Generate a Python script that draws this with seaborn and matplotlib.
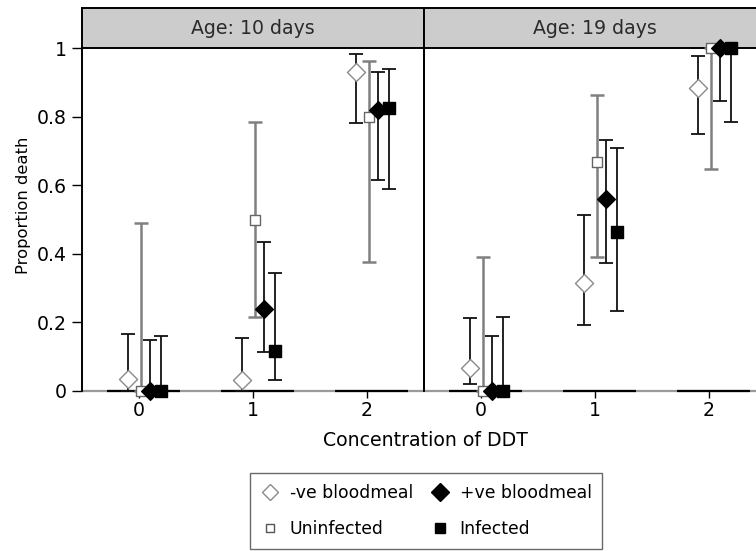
import numpy as np
import pandas as pd
import matplotlib
matplotlib.use("Agg")
import matplotlib.pyplot as plt
from matplotlib.lines import Line2D
import seaborn as sns

# ---------------- data ----------------
doses = [0, 1, 2]
ages = ["Age: 10 days", "Age: 19 days"]
series = ["-ve bloodmeal", "Uninfected", "+ve bloodmeal", "Infected"]

# Age 10 days
p10_neg = [0.035, 0.032, 0.931]
lo10_neg = [0.0, 0.0, 0.78]
hi10_neg = [0.166, 0.154, 0.982]
p10_uninf = [0.0, 0.50, 0.80]
lo10_uninf = [0.0, 0.216, 0.376]
hi10_uninf = [0.49, 0.785, 0.963]
p10_pos = [0.0, 0.239, 0.819]
lo10_pos = [0.0, 0.115, 0.615]
hi10_pos = [0.149, 0.434, 0.931]
p10_inf = [0.0, 0.118, 0.824]
lo10_inf = [0.0, 0.032, 0.59]
hi10_inf = [0.16, 0.345, 0.938]

# Age 19 days
p19_neg = [0.068, 0.314, 0.884]
lo19_neg = [0.02, 0.192, 0.749]
hi19_neg = [0.214, 0.513, 0.978]
p19_uninf = [0.0, 0.667, 1.0]
lo19_uninf = [0.0, 0.392, 0.646]
hi19_uninf = [0.392, 0.862, 1.0]
p19_pos = [0.0, 0.56, 1.0]
lo19_pos = [0.0, 0.372, 0.846]
hi19_pos = [0.16, 0.733, 1.0]
p19_inf = [0.0, 0.464, 1.0]
lo19_inf = [0.0, 0.233, 0.784]
hi19_inf = [0.216, 0.709, 1.0]

yticks = [0, 0.2, 0.4, 0.6, 0.8, 1.0]
ytick_labels = ["0", "0.2", "0.4", "0.6", "0.8", "1"]

data = {
    ages[0]: {
        series[0]: (p10_neg, lo10_neg, hi10_neg),
        series[1]: (p10_uninf, lo10_uninf, hi10_uninf),
        series[2]: (p10_pos, lo10_pos, hi10_pos),
        series[3]: (p10_inf, lo10_inf, hi10_inf),
    },
    ages[1]: {
        series[0]: (p19_neg, lo19_neg, hi19_neg),
        series[1]: (p19_uninf, lo19_uninf, hi19_uninf),
        series[2]: (p19_pos, lo19_pos, hi19_pos),
        series[3]: (p19_inf, lo19_inf, hi19_inf),
    },
}

rows = []
for age in ages:
    for s in series:
        p, lo, hi = data[age][s]
        for d, pv, lv, hv in zip(doses, p, lo, hi):
            rows.append(dict(age=age, series=s, dose=d, p=pv, lo=lv, hi=hv))
df = pd.DataFrame(rows)

# ---------------- styles ----------------
offsets = {series[0]: -0.1, series[1]: 0.02, series[2]: 0.1, series[3]: 0.19}
mstyle = {
    series[0]: dict(marker="D", s=9.2**2, fc="white", ec="#8a8a8a", lw=1.0, err="#111111", elw=1.3),
    series[1]: dict(marker="s", s=7.2**2, fc="white", ec="#666666", lw=1.0, err="#808080", elw=1.8),
    series[2]: dict(marker="D", s=9.0**2, fc="black", ec="black", lw=1.0, err="#111111", elw=1.3),
    series[3]: dict(marker="s", s=8.6**2, fc="black", ec="black", lw=1.0, err="#111111", elw=1.3),
}

sns.set_theme(style="white")
plt.rcParams["font.family"] = ["DejaVu Sans"]
plt.rcParams["text.color"] = "black"

FS = 13.6

W, H = 756, 551
fig = plt.figure(figsize=(W / 100, H / 100), dpi=100)

def fx(px):
    return px / W

def fy(py):
    return 1 - py / H

panel_left = [82, 424]
panel_w = 342
top_px, bot_px, strip_top = 48, 391, 8

for i, age in enumerate(ages):
    L = panel_left[i]
    ax = fig.add_axes([fx(L), fy(bot_px), panel_w / W, (bot_px - top_px) / H])
    ax.set_xlim(-0.5, 2.5)
    ax.set_ylim(0, 1)
    ax.set_facecolor("white")
    for sp in ["top", "bottom", "right"]:
        ax.spines[sp].set_visible(False)
    ax.spines["left"].set_color("black")
    ax.spines["left"].set_linewidth(1.4)
    if i == 0:
        ax.spines["right"].set_visible(True)
        ax.spines["right"].set_color("black")
        ax.spines["right"].set_linewidth(1.4)

    # baseline
    ax.axhline(0, color="#9a9a9a", lw=1.6, zorder=1, clip_on=False)
    for d in doses:
        ax.plot([d - 0.28, d + 0.36], [0, 0], color="black", lw=1.6, zorder=1.5,
                solid_capstyle="butt", clip_on=False)

    sub = df[df.age == age].copy()
    sub["x"] = sub["dose"] + sub["series"].map(offsets)
    for s in series:
        ss = sub[sub.series == s]
        st = mstyle[s]
        ax.errorbar(ss["x"], ss["p"], yerr=[ss["p"] - ss["lo"], ss["hi"] - ss["p"]],
                    fmt="none", ecolor=st["err"], elinewidth=st["elw"], capsize=5,
                    capthick=st["elw"], zorder=2, clip_on=False)
    for s in series:
        ss = sub[sub.series == s]
        st = mstyle[s]
        sns.scatterplot(data=ss, x="x", y="p", ax=ax, marker=st["marker"], s=st["s"],
                        color=st["fc"], edgecolor=st["ec"], linewidth=st["lw"],
                        zorder=3, clip_on=False, legend=False)

    ax.set_xlabel("")
    ax.set_ylabel("")
    ax.set_xticks(doses)
    ax.set_xticklabels([str(d) for d in doses], fontsize=FS, color="black")
    ax.tick_params(axis="x", direction="out", length=5, width=1, color="black", pad=2,
                   bottom=True)
    if i == 0:
        ax.set_yticks(yticks)
        ax.set_yticklabels(ytick_labels, fontsize=FS, color="black")
        ax.tick_params(axis="y", direction="out", length=7, width=1, color="black", pad=4,
                       left=True)
    else:
        ax.set_yticks(yticks)
        ax.tick_params(axis="y", left=False, labelleft=False)

    # strip
    sax = fig.add_axes([fx(L), fy(top_px), panel_w / W, (top_px - strip_top) / H])
    sax.set_facecolor("#cccccc")
    sax.set_xticks([])
    sax.set_yticks([])
    for sp in sax.spines.values():
        sp.set_color("black")
        sp.set_linewidth(1.4)
        sp.set_visible(True)
    sax.text(0.5, 0.48, age, ha="center", va="center",
             fontsize=FS, color="#2a2a2a", transform=sax.transAxes)
    sax.set_zorder(0)
    ax.set_zorder(1)
    ax.patch.set_alpha(0)

fig.text(fx(24), fy(205), "Proportion death", rotation=90, ha="center", va="center",
         fontsize=11.8, color="black")
fig.text(fx(425), fy(441), "Concentration of DDT", ha="center", va="center",
         fontsize=FS, color="black")

handles = [
    Line2D([], [], ls="none", marker="D", ms=8.0, mfc="white", mec="#8a8a8a", mew=1.0),
    Line2D([], [], ls="none", marker="s", ms=5.5, mfc="white", mec="#555555", mew=1.0),
    Line2D([], [], ls="none", marker="D", ms=9.0, mfc="black", mec="black"),
    Line2D([], [], ls="none", marker="s", ms=7.5, mfc="black", mec="black"),
]
labels = ["-ve bloodmeal", "Uninfected", "+ve bloodmeal", "Infected"]
leg = fig.legend(handles, labels, ncol=2, loc="center",
                 bbox_to_anchor=(fx(426), fy(511)), fontsize=12.4, frameon=True,
                 fancybox=False, edgecolor="#444444", handlelength=1.1,
                 handletextpad=0.6, columnspacing=1.0, labelspacing=1.1,
                 borderpad=0.6, borderaxespad=0, labelcolor="black")
leg.get_frame().set_linewidth(1.0)

fig.savefig("out.png", dpi=100, facecolor="white")
